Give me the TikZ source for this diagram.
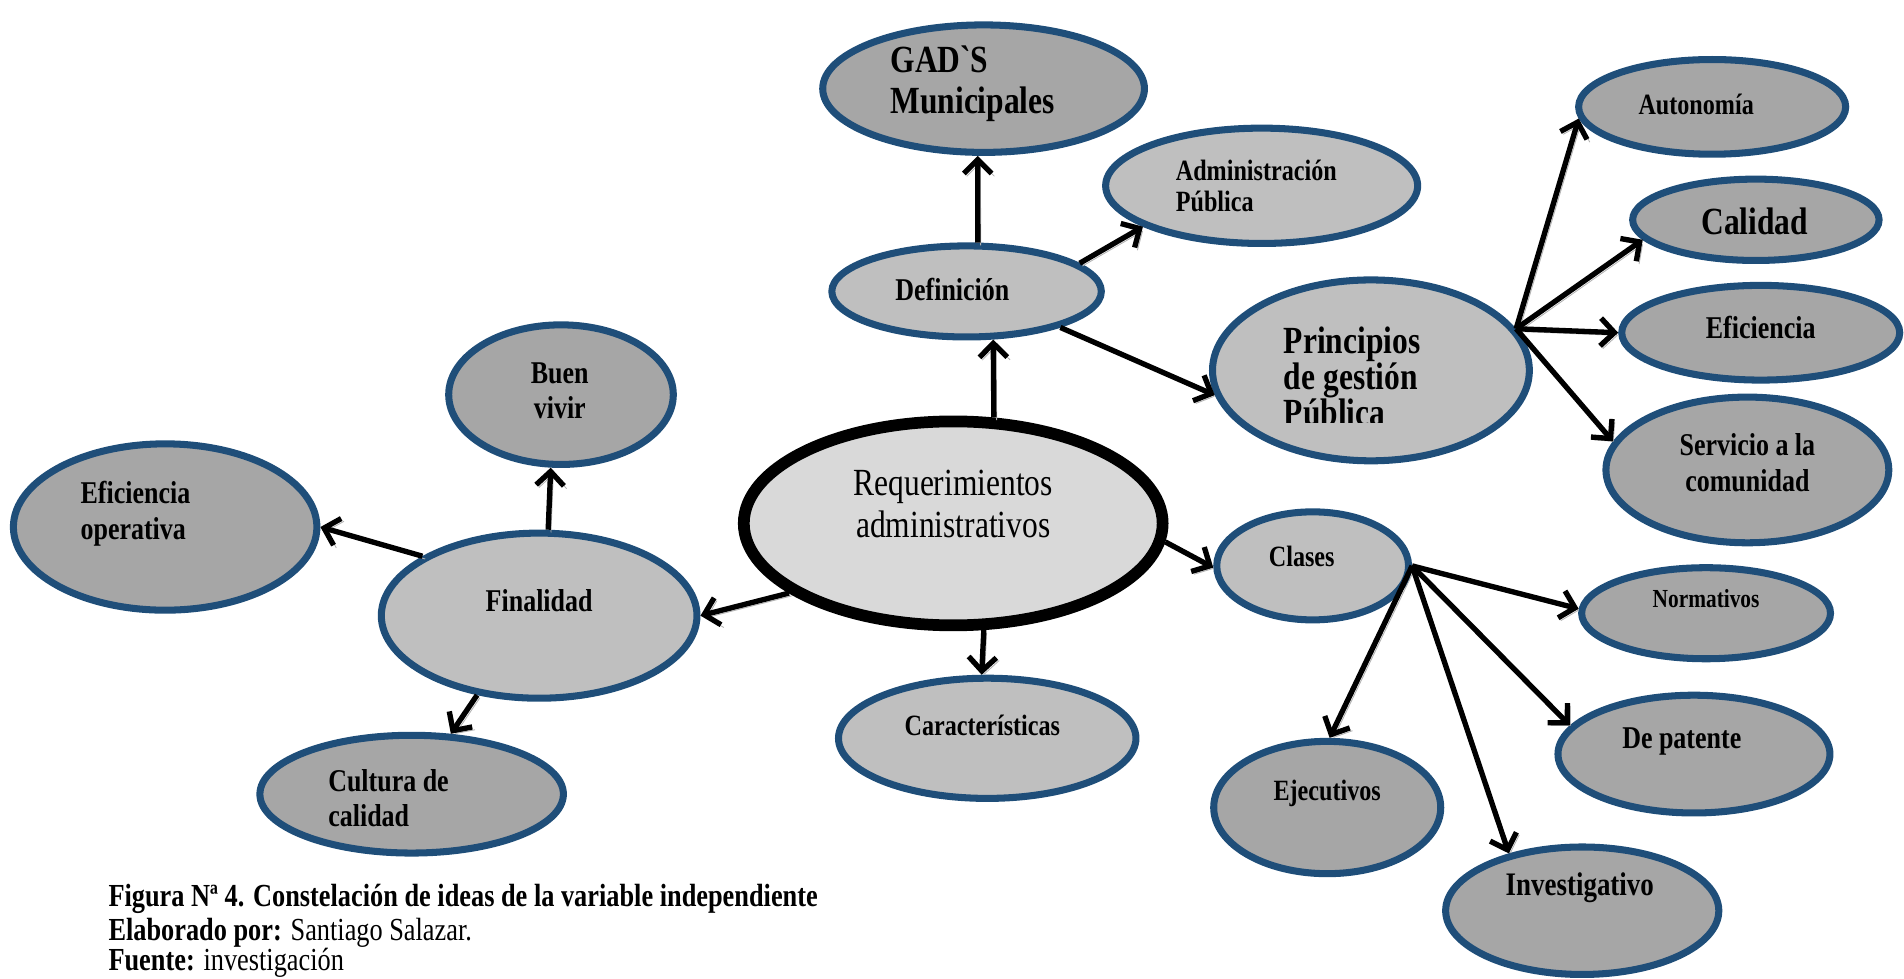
\documentclass[tikz,border=0pt]{standalone}
\usepackage{fontspec}
\setmainfont{Liberation Serif}[FakeStretch=0.82]
\newfontfamily\nolig{Liberation Serif}[FakeStretch=0.82,Ligatures=TeXOff]
\usetikzlibrary{shapes.geometric,arrows.meta}
\definecolor{bord}{RGB}{31,78,121}
\definecolor{dk}{RGB}{166,166,166}
\definecolor{lt}{RGB}{191,191,191}
\definecolor{ctr}{RGB}{217,217,217}
\newcommand\fsz[2]{\fontsize{#1}{#2}\selectfont}
\tikzset{
 bub/.style={ellipse, draw=bord, line width=3.3pt, inner sep=0pt},
 dkb/.style={bub, fill=dk},
 ltb/.style={bub, fill=lt},
 txt/.style={inner sep=0pt},
 arr/.style={line width=2.5pt, -{Straight Barb[length=6.5pt,width=13pt]},
   preaction={draw=black!30, transform canvas={xshift=1.3pt,yshift=-1.3pt}}},
}
\begin{document}
\begin{tikzpicture}[x=0.02cm,y=-0.02cm]
\useasboundingbox (0,0) rectangle (1568,806);
% ellipses
\node[dkb, minimum width=5.30cm, minimum height=2.10cm] (gad) at (810,73) {};
\node[ltb, minimum width=5.14cm, minimum height=1.90cm] (adm) at (1039,153) {};
\node[ltb, minimum width=4.44cm, minimum height=1.50cm] (def) at (796,240) {};
\node[ltb, minimum width=5.22cm, minimum height=2.98cm] (pr) at (1129,305) {};
\node[dkb, minimum width=4.40cm, minimum height=1.56cm] (aut) at (1410,88) {};
\node[dkb, minimum width=4.06cm, minimum height=1.34cm] (cal) at (1446,181) {};
\node[dkb, minimum width=4.58cm, minimum height=1.56cm] (efr) at (1450,274) {};
\node[dkb, minimum width=4.66cm, minimum height=2.40cm] (ser) at (1439,387) {};
\node[ellipse, draw=black, line width=5.5pt, fill=ctr, inner sep=0pt, minimum width=6.90cm, minimum height=3.36cm] (req) at (785,431) {};
\node[dkb, minimum width=3.70cm, minimum height=2.30cm] (buen) at (462,325) {};
\node[dkb, minimum width=5.00cm, minimum height=2.74cm] (efo) at (136,434) {};
\node[ltb, minimum width=5.20cm, minimum height=2.72cm] (fin) at (444,507) {};
\node[dkb, minimum width=5.00cm, minimum height=1.94cm] (cul) at (339,654) {};
\node[ltb, minimum width=4.90cm, minimum height=1.98cm] (car) at (813,608) {};
\node[ltb, minimum width=3.16cm, minimum height=1.78cm] (cla) at (1081,466) {};
\node[dkb, minimum width=4.10cm, minimum height=1.50cm] (nor) at (1405,505) {};
\node[dkb, minimum width=4.48cm, minimum height=1.94cm] (pat) at (1395,621) {};
\node[dkb, minimum width=3.74cm, minimum height=2.18cm] (eje) at (1093,665) {};
\node[dkb, minimum width=4.50cm, minimum height=2.10cm] (inv) at (1303,750) {};
% arrows
\draw[arr] (def.77) -- (gad.265);
\draw[arr] (def.14) -- (adm.199);
\draw[arr] (def.-21) -- (pr.189);
\draw[arr] (req.69) -- (def.299);
\draw[arr] (pr.16) -- (aut.185);
\draw[arr] (pr.16) -- (cal.190);
\draw[arr] (pr.16) -- (efr.180);
\draw[arr] (pr.16) -- (ser.168);
\draw[arr] (req.-5) -- (cla.181);
\draw[arr] (req.286) -- (car.95);
\draw[arr] (req.203) -- (fin.0);
\draw[arr] (fin.84) -- (buen.262);
\draw[arr] (fin.153) -- (efo.0);
\draw[arr] (fin.232) -- (cul.57);
\draw[arr] (cla.east) -- (nor.178);
\draw[arr] (cla.east) -- (eje.88);
\draw[arr] (cla.east) -- (inv.142);
\draw[arr] (cla.east) -- (pat.167);
% texts
\node[txt, font=\bfseries\fsz{18}{19.3}, align=left, anchor=west] (gad-t) at (733,69) {{\nolig GAD`S}\\Municipales};
\node[txt, font=\bfseries\fsz{13.8}{14.8}, align=left, anchor=west] (adm-t) at (968,153) {Administración\\Pública};
\node[txt, font=\bfseries\fsz{14.85}{16}, anchor=west] (def-t) at (737,238) {Definición};
\begin{scope}
\clip (1000,230) rectangle (1262,348);
\node[txt, font=\bfseries\fsz{18}{17}, align=left, anchor=west] (pr-t) at (1057,310) {Principios\\de gestión\\Pública};
\end{scope}
\node[txt, font=\bfseries\fsz{13.8}{15}, anchor=west] (aut-t) at (1349,86) {Autonomía};
\node[txt, font=\bfseries\fsz{18}{19}] (cal-t) at (1445,182) {Calidad};
\node[txt, font=\bfseries\fsz{14.85}{16}] (efr-t) at (1450,270) {Eficiencia};
\node[txt, font=\bfseries\fsz{14.85}{17}, align=center] (ser-t) at (1439,381) {Servicio a la\\comunidad};
\node[txt, font=\fsz{18}{20}, align=center] (req-t) at (785,415) {Requerimientos\\administrativos};
\node[txt, font=\bfseries\fsz{14.85}{16.5}, align=center] (buen-t) at (461,322) {Buen\\vivir};
\node[txt, font=\bfseries\fsz{14.85}{16.5}, align=left, anchor=west] (efo-t) at (66,423) {Eficiencia\\operativa};
\node[txt, font=\bfseries\fsz{14.85}{16}] (fin-t) at (444,495) {Finalidad};
\node[txt, font=\bfseries\fsz{14.85}{16.5}, align=left, anchor=west] (cul-t) at (270,657) {Cultura de\\calidad};
\node[txt, font=\bfseries\fsz{13.8}{15}] (car-t) at (809,597) {Características};
\node[txt, font=\bfseries\fsz{13.8}{15}] (cla-t) at (1072,458) {Clases};
\node[txt, font=\bfseries\fsz{12.2}{14}] (nor-t) at (1405,493) {Normativos};
\node[txt, font=\bfseries\fsz{14.85}{16}] (pat-t) at (1385,611) {De patente};
\node[txt, font=\bfseries\fsz{13.8}{15}] (eje-t) at (1093,653) {Ejecutivos};
\node[txt, font=\bfseries\fsz{15.4}{17}] (inv-t) at (1301,731) {Investigativo};
% caption
\node[txt, font=\bfseries\fsz{15.05}{16}, anchor=west] (cap1) at (89,740) {Figura Nª 4. Constelación de ideas de la variable independiente};
\node[txt, font=\fsz{15.05}{16}, anchor=west] (cap2) at (89,768) {\textbf{Elaborado por:} Santiago Salazar.};
\node[txt, font=\fsz{15.05}{16}, anchor=west] (cap3) at (89,793) {\textbf{Fuente:} investigación};
\end{tikzpicture}
\end{document}
